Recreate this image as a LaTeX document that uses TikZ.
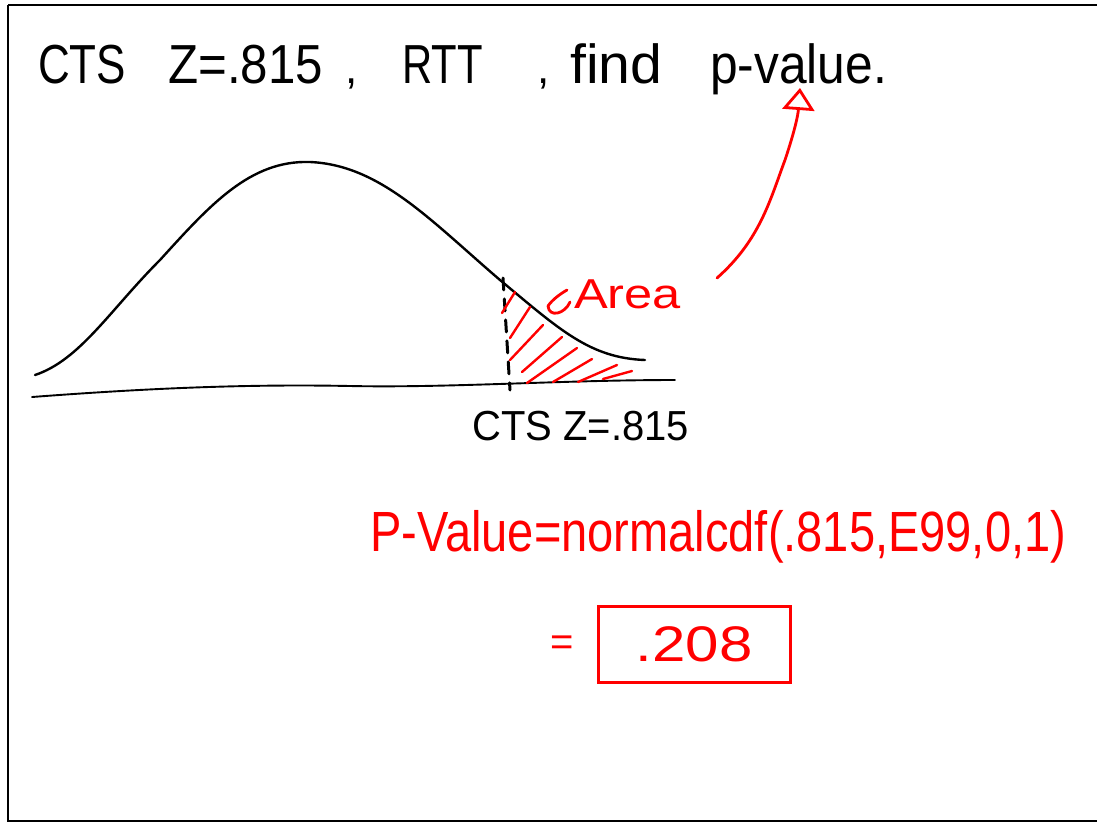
\documentclass[tikz,border=0pt]{standalone}
\usepackage{fontspec}
\setmainfont{Liberation Sans}
\usetikzlibrary{arrows.meta}
\definecolor{pen}{HTML}{FF0000}
\begin{document}
\begin{tikzpicture}[x=1pt,y=-1pt,
  blackink/.style={draw=black,line width=2.4pt,line cap=round,line join=round},
  redink/.style={draw=pen,line width=2.8pt,line cap=round,line join=round},
  hatch/.style={draw=pen,line width=2.4pt,line cap=round},
  blacktext/.style={text=black,inner sep=0pt,anchor=base west,font=\fontsize{44}{50}\selectfont},
  redtext/.style={text=pen,inner sep=0pt}]
\useasboundingbox (0,0) rectangle (1097,823);
\fill[white] (0,0) rectangle (1097,823);
% frame
\draw[line width=2pt] (8,5) -- (1100,5) (8,5) -- (8,821) -- (1100,821);
% title
\node[blacktext] (t1) at (38,83) {\scalebox{1}[1.25]{CTS}};
\node[blacktext] (t2) at (168,83) {\scalebox{1.12}[1.25]{Z=.815}};
\node[blacktext] (t3) at (345,83) {,};
\node[blacktext] (t4) at (402,83) {\scalebox{0.95}[1.25]{RTT}};
\node[blacktext] (t5) at (537,83) {,};
\node[blacktext] (t6) at (570,83) {\scalebox{1.3}[1.25]{find}};
\node[blacktext] (t7) at (710,83) {\scalebox{1.13}[1.25]{p-value.}};
% baseline
\draw[blackink,line width=1.9pt] (32,397) .. controls (150,388) and (250,384) .. (350,386)
  .. controls (450,388) and (560,380) .. (675,380);
% bell curve
\draw[blackink] (35,375) .. controls (80,360) and (110,310) .. (160,260)
  .. controls (210,205) and (250,160) .. (310,162)
  .. controls (380,165) and (430,220) .. (500,280)
  .. controls (560,330) and (590,358) .. (645,360);
% dashed cut line
\draw[blackink,line width=3pt,dash pattern=on 12pt off 9pt] (503,278) -- (510,390);
% hatching
\draw[hatch] (502,313) -- (515,292);
\draw[hatch] (510,338) -- (530,307);
\draw[hatch] (510,360) -- (543,325);
\draw[hatch] (522,372) -- (562,337);
\draw[hatch] (527,383) -- (577,348);
\draw[hatch] (553,382) -- (592,359);
\draw[hatch] (578,382) -- (617,365);
\draw[hatch] (603,379) -- (632,371);
% Area label
\node[redtext,anchor=base west,font=\fontsize{44}{50}\selectfont] (area) at (574,308)
  {\scalebox{1.15}[0.95]{Area}};
\coordinate (areatip) at (548,306);
\draw[redink] (567,290) .. controls (560,294) and (552,300) .. (areatip);
\draw[redink] (areatip) .. controls (549,318) and (565,314) .. (570,302);
% arrow to p-value
\coordinate (arrstart) at (717,278);
\coordinate (arrend) at (800,88);
\draw[redink,-{Triangle[open,length=22pt,width=32pt,line width=2.8pt]}] (arrstart)
  .. controls (760,240) and (770,200) .. (785,160) .. controls (795,130) and (798,115) .. (arrend);
% axis label
\node[blacktext,font=\fontsize{40}{46}\selectfont] (cts) at (472,440)
  {\scalebox{1}[1.05]{CTS Z=.815}};
% formula
\node[redtext,anchor=base west,font=\fontsize{42}{48}\selectfont] (formula) at (370,551)
  {\scalebox{1.12}[1.35]{P-Value=normalcdf(.815,E99,0,1)}};
% result
\node[redtext,font=\fontsize{40}{46}\selectfont] (eq) at (562,646) {=};
\node[redtext,font=\fontsize{50}{56}\selectfont,draw=pen,line width=3pt,
  minimum width=192pt,minimum height=76pt] (result) at (694,644) {\scalebox{1.2}[1]{.208}};
\end{tikzpicture}
\end{document}
